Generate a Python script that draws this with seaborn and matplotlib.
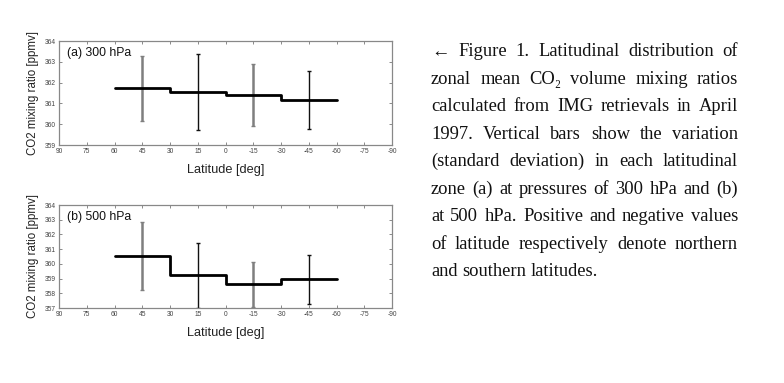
import matplotlib
matplotlib.use("Agg")
import matplotlib.pyplot as plt
import seaborn as sns
import pandas as pd
import numpy as np

# ---- data ----
zone_edges = [60, 30, 0, -30, -60]
zone_centers = [45, 15, -15, -45]
mean_300 = [361.72, 361.55, 361.41, 361.16]
sd_300 = [1.58, 1.84, 1.50, 1.38]
mean_500 = [360.54, 359.22, 358.62, 358.95]
sd_500 = [2.30, 2.22, 1.54, 1.65]
bar_colors = ["#7f7f7f", "#111111", "#7f7f7f", "#111111"]
xticks = list(range(90, -91, -15))
panels = [("(a) 300 hPa", mean_300, sd_300, (359, 364)),
          ("(b) 500 hPa", mean_500, sd_500, (357, 364))]

caption_lines = [
    "\u2190 Figure 1. Latitudinal distribution of",
    "zonal mean CO\u2082 volume mixing ratios",
    "calculated from IMG retrievals in April",
    "1997. Vertical bars show the variation",
    "(standard deviation) in each latitudinal",
    "zone (a) at pressures of 300 hPa and (b)",
    "at 500 hPa. Positive and negative values",
    "of latitude respectively denote northern",
    "and southern latitudes.",
]

sns.set_theme(style="ticks")
plt.rcParams['font.family'] = ['Liberation Sans', 'DejaVu Sans']

fig = plt.figure(figsize=(7.84, 3.83), dpi=100)
fig.patch.set_facecolor("white")

axes_pos = [[59/784, 1-145/383, 333/784, 104/383],
            [59/784, 1-308/383, 333/784, 103/383]]

for (label, means, sds, ylim), pos in zip(panels, axes_pos):
    ax = fig.add_axes(pos)
    df = pd.DataFrame({"lat": zone_edges, "co2": means + [means[-1]]})
    sns.lineplot(data=df, x="lat", y="co2", ax=ax, color="black",
                 linewidth=2.0, drawstyle="steps-post", sort=False,
                 estimator=None)
    for xc, m, s, c in zip(zone_centers, means, sds, bar_colors):
        ax.errorbar([xc], [m], yerr=[s], fmt="none", ecolor=c,
                    elinewidth=1.8 if c != "#111111" else 1.0,
                    capsize=1.5, capthick=1.0, zorder=1, clip_on=True)
    ax.set_xlim(90, -90)
    ax.set_ylim(*ylim)
    ax.set_xticks(xticks)
    ax.set_xticklabels([str(t) for t in xticks])
    ax.set_yticks(range(ylim[0], ylim[1] + 1))
    ax.tick_params(direction="in", length=2.5, width=0.6, colors="#777777",
                   labelsize=4.8, labelcolor="#444444", top=True, right=True, pad=2.5)
    for sp in ax.spines.values():
        sp.set_visible(True)
        sp.set_color("#888888")
        sp.set_linewidth(0.9)
    ax.set_xlabel("Latitude [deg]", fontsize=9.2, color="#222222", labelpad=6)
    ax.set_ylabel("CO2 mixing ratio [ppmv]", fontsize=8.3, color="#222222", labelpad=4)
    ax.text(0.025, 0.885, label, transform=ax.transAxes, fontsize=8.8,
            color="#111111", va="center", ha="left")
    ax.grid(False)
    ax.set_facecolor("white")

# ---- justified caption ----
cap_font = dict(family=["Liberation Serif", "DejaVu Serif"], size=13.3, color="#111111")
x_left, x_right = 431, 738
base0, step = 56.5, 27.45
fig.canvas.draw()
renderer = fig.canvas.get_renderer()

def px2fig(x, y):
    return x / 784, 1 - y / 383

def width_of(s):
    t = fig.text(0, 0, s, **cap_font)
    w = t.get_window_extent(renderer).width
    t.remove()
    return w

space_w = width_of("a a") - width_of("aa")

for i, line in enumerate(caption_lines):
    y = base0 + i * step
    words = line.split(" ")
    widths = [width_of(w) for w in words]
    last = (i == len(caption_lines) - 1)
    if last:
        gap = space_w
    else:
        gap = (x_right - x_left - sum(widths)) / (len(words) - 1)
    x = x_left
    for w, wd in zip(words, widths):
        fx, fy = px2fig(x, y)
        fig.text(fx, fy, w, ha="left", va="baseline", **cap_font)
        x += wd + gap

fig.savefig("out.png", dpi=100, facecolor="white")
